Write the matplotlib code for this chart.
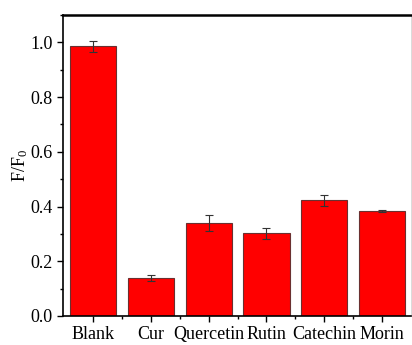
import numpy as np
import matplotlib
matplotlib.use('Agg')
import matplotlib.pyplot as plt
from matplotlib.ticker import MultipleLocator, FixedLocator

# Datos
categories = ['Blank', 'Cur', 'Quercetin', 'Rutin', 'Catechin', 'Morin']
values = [0.985, 0.139, 0.340, 0.303, 0.423, 0.384]
errors = [0.020, 0.012, 0.028, 0.020, 0.020, 0.005]

plt.rcParams['font.family'] = ['Liberation Serif', 'DejaVu Serif']
plt.rcParams['mathtext.fontset'] = 'stix'

fig = plt.figure(figsize=(4.12, 3.45), dpi=100)
ax = fig.add_axes([63 / 412, 1 - 316 / 345, (411 - 63) / 412, (316 - 15) / 345])

x = np.arange(len(categories))
ax.bar(x, values, width=0.8, color='#ff0000', edgecolor='#6a3030', linewidth=0.8,
       yerr=errors, capsize=3, error_kw=dict(ecolor='#333333', elinewidth=0.8, capthick=0.8))

ax.set_xlim(-0.52, 5.5)
ax.set_ylim(0, 1.1)
ax.set_xticks(x)
ax.set_xticklabels(categories, fontsize=13)
ax.xaxis.set_minor_locator(FixedLocator(x[:-1] + 0.5))
ax.yaxis.set_major_locator(MultipleLocator(0.2))
ax.yaxis.set_minor_locator(MultipleLocator(0.1))
ax.yaxis.set_major_formatter(plt.FormatStrFormatter('%.1f'))
ax.tick_params(axis='y', labelsize=13)
ax.tick_params(which='major', direction='out', length=4, width=1)
ax.tick_params(which='minor', direction='out', length=2.5, width=1)
ax.set_ylabel(r'F/F$_\mathregular{0}$', fontsize=13)
ax.yaxis.set_label_coords(-0.095, 0.5)

for s in ax.spines.values():
    s.set_linewidth(1.2)
ax.spines['top'].set_linewidth(1.8)
ax.spines['right'].set_linewidth(0.5)
ax.spines['right'].set_color('#cccccc')

fig.savefig('out.png', dpi=100)
